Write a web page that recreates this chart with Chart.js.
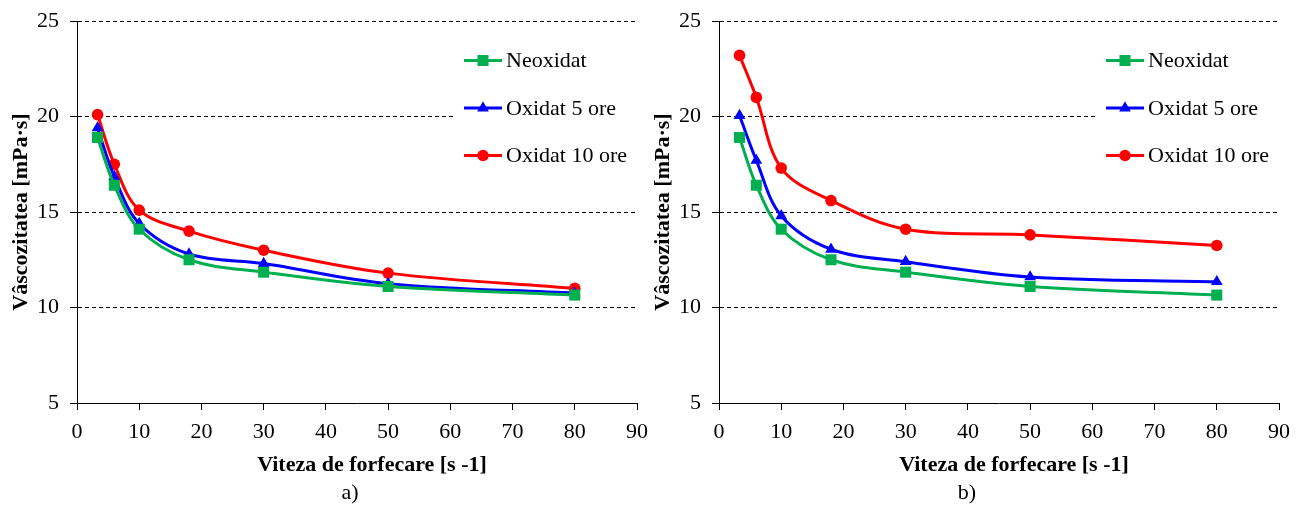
<!DOCTYPE html>
<html>
<head>
<meta charset="utf-8">
<script src="https://cdn.jsdelivr.net/npm/chart.js@4/dist/chart.umd.min.js"></script>
<style>
  html, body { margin: 0; padding: 0; background: #fff; }
  #wrap { position: relative; width: 1300px; height: 511px; }
  canvas { position: absolute; top: 0; }
</style>
</head>
<body>
<div id="wrap">
  <canvas id="chartA" width="650" height="511" style="left:0px"></canvas>
  <canvas id="chartB" width="650" height="511" style="left:642px"></canvas>
</div>
<script>
'use strict';

// shear rate [1/s]
var shearRates = [3.3, 6, 10, 18, 30, 50, 80];

// viscosity [mPa·s]
var neoxidat = [18.9, 16.4, 14.1, 12.5, 11.85, 11.1, 10.65];
var oxidat5A = [19.4, 16.85, 14.4, 12.8, 12.3, 11.25, 10.75];
var oxidat10A = [20.1, 17.5, 15.1, 14.0, 13.0, 11.8, 11.0];
var oxidat5B = [20.05, 17.7, 14.8, 13.05, 12.4, 11.6, 11.35];
var oxidat10B = [23.2, 21.0, 17.3, 15.6, 14.1, 13.8, 13.25];

var seriesNames = ['Neoxidat', 'Oxidat 5 ore', 'Oxidat 10 ore'];
var seriesColors = ['#00B050', '#0000FF', '#FF0000'];
var seriesMarkers = ['rect', 'triangle', 'circle'];
var markerRadius = [7.8, 6.8, 5.8];

var xTitle = 'Viteza de forfecare [s -1]';
var yTitle = 'Vâscozitatea [mPa·s]';

var SERIF = '"Liberation Serif", "Times New Roman", serif';
var FONT_SIZE = 22;

function toPoints(ys){
  return shearRates.map(function(x, i){ return {x: x, y: ys[i]}; });
}

function makeDataset(idx, ys){
  return {
    label: seriesNames[idx],
    data: toPoints(ys),
    borderColor: seriesColors[idx],
    backgroundColor: seriesColors[idx],
    borderWidth: 3,
    pointStyle: seriesMarkers[idx],
    pointRadius: markerRadius[idx],
    pointBorderWidth: 0,
    pointBackgroundColor: seriesColors[idx],
    tension: 0.35,
    fill: false
  };
}

// legend box, axis titles and caption drawn on top of the chart
var decorations = {
  id: 'decorations',
  afterDraw: function(chart, args, opts){
    var ctx = chart.ctx;
    var area = chart.chartArea;
    ctx.save();

    // white legend box hides the grid line behind it
    ctx.fillStyle = '#fff';
    ctx.fillRect(453, 34, area.right - 453 + 1, 150);

    var rowY = [60.5, 108, 155.5];
    seriesNames.forEach(function(name, i){
      var y = rowY[i];
      ctx.strokeStyle = seriesColors[i];
      ctx.lineWidth = 3;
      ctx.beginPath();
      ctx.moveTo(464, y);
      ctx.lineTo(502, y);
      ctx.stroke();
      ctx.fillStyle = seriesColors[i];
      Chart.helpers.drawPoint(ctx, {pointStyle: seriesMarkers[i], radius: markerRadius[i], borderWidth: 0}, 483, y);
      ctx.fillStyle = '#000';
      ctx.font = FONT_SIZE + 'px ' + SERIF;
      ctx.textAlign = 'left';
      ctx.textBaseline = 'middle';
      ctx.fillText(name, 506, y + 1);
    });

    // axis titles
    ctx.fillStyle = '#000';
    ctx.font = 'bold ' + FONT_SIZE + 'px ' + SERIF;
    ctx.textAlign = 'center';
    ctx.textBaseline = 'alphabetic';
    ctx.fillText(xTitle, 372, 471);

    ctx.save();
    ctx.translate(27, (area.top + area.bottom) / 2);
    ctx.rotate(-Math.PI / 2);
    ctx.fillText(yTitle, 0, 0);
    ctx.restore();

    // caption
    ctx.font = FONT_SIZE + 'px ' + SERIF;
    ctx.fillText(opts.caption, opts.captionX, 499);
    ctx.restore();
  }
};

function buildOptions(caption, captionX){
  return {
    responsive: false,
    animation: false,
    devicePixelRatio: 1,
    layout: { padding: { top: 21, right: 13, left: 0, bottom: 0 } },
    plugins: {
      legend: { display: false },
      tooltip: { enabled: false },
      decorations: { caption: caption, captionX: captionX }
    },
    scales: {
      x: {
        type: 'linear',
        min: 0,
        max: 90,
        ticks: {
          stepSize: 10,
          color: '#000',
          padding: 9,
          font: { family: SERIF, size: FONT_SIZE }
        },
        grid: {
          drawOnChartArea: false,
          drawTicks: true,
          tickLength: 7,
          tickColor: '#000',
          color: '#000'
        },
        border: { color: '#000', width: 1 },
        // fixed axis height; label overflow is handled by layout.padding
        afterFit: function(scale){
          scale.height = 108;
          scale.paddingLeft = 0;
          scale.paddingRight = 0;
        }
      },
      y: {
        min: 5,
        max: 25,
        ticks: {
          stepSize: 5,
          color: '#000',
          padding: 11,
          font: { family: SERIF, size: FONT_SIZE }
        },
        grid: {
          color: function(c){ return c.tick.value === 5 ? 'rgba(0,0,0,0)' : '#000'; },
          lineWidth: 1,
          tickLength: 7,
          tickColor: '#000',
          tickBorderDash: []
        },
        // in v4 the grid line dash lives under border
        border: { color: '#000', width: 1, dash: [4, 3] },
        afterFit: function(scale){
          scale.width = 77;
          scale.paddingTop = 0;
          scale.paddingBottom = 0;
        }
      }
    }
  };
}

new Chart(document.getElementById('chartA'), {
  type: 'line',
  data: {
    datasets: [
      makeDataset(0, neoxidat),
      makeDataset(1, oxidat5A),
      makeDataset(2, oxidat10A)
    ]
  },
  options: buildOptions('a)', 350),
  plugins: [decorations]
});

new Chart(document.getElementById('chartB'), {
  type: 'line',
  data: {
    datasets: [
      makeDataset(0, neoxidat),
      makeDataset(1, oxidat5B),
      makeDataset(2, oxidat10B)
    ]
  },
  options: buildOptions('b)', 325),
  plugins: [decorations]
});
</script>
</body>
</html>
